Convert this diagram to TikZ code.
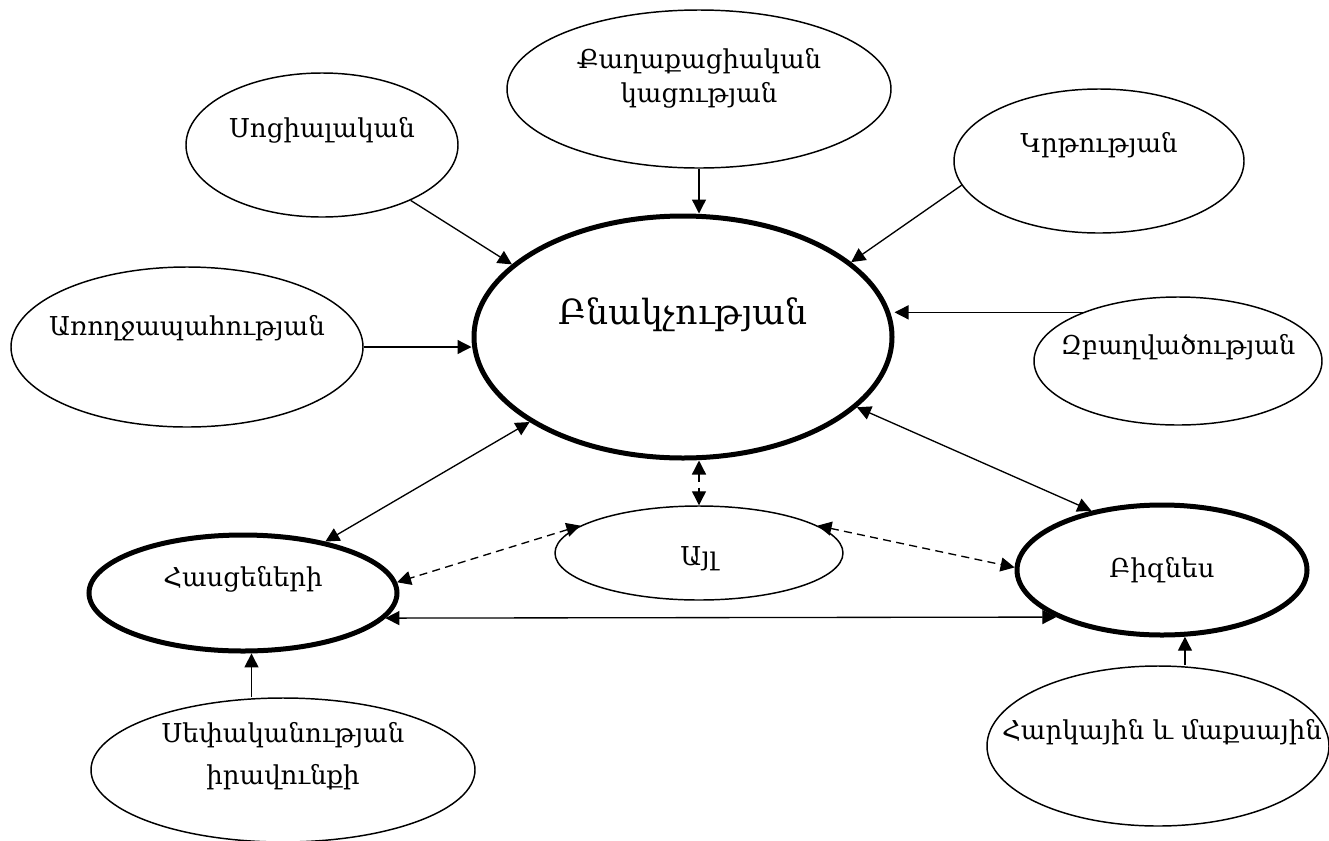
\documentclass[tikz,border=0pt]{standalone}
\usepackage{fontspec}
\setmainfont{DejaVu Serif}
\usetikzlibrary{shapes.geometric,arrows.meta}

\tikzset{every picture/.style={line width=1pt}}
\tikzset{
  oval/.style 2 args={ellipse, draw, line width=1.1pt, inner sep=0pt, minimum width=#1*0.75pt, minimum height=#2*0.75pt},
  bold/.style={line width=3.75pt},
  txt/.style={font=\fontsize{19.5}{25}\selectfont, align=center, inner sep=0pt},
  bigtxt/.style={font=\fontsize{26}{30}\selectfont, inner sep=0pt},
  arr/.style={-{Triangle[length=10.5pt,width=10.5pt]}},
  darr/.style={{Triangle[length=10.5pt,width=10.5pt]}-{Triangle[length=10.5pt,width=10.5pt]}},
  dsh/.style={dash pattern=on 6pt off 4pt}
}

\begin{document}
\begin{tikzpicture}[x=0.75pt,y=0.75pt,yscale=-1,xscale=1]
\useasboundingbox (0,0) rectangle (1329,840);

% Ellipses
\node[oval={272}{144}, label={[txt,yshift=11pt]center:Սոցիալական}] (soc) at (322,145) {};
\node[oval={384}{158}, label={[txt,yshift=8pt]center:{Քաղաքացիական\\կացության}}] (kag) at (699,89) {};
\node[oval={290}{144}, label={[txt,yshift=12pt]center:Կրթության}] (krt) at (1099,161) {};
\node[oval={418}{242}, bold, label={[bigtxt,yshift=16.5pt]center:Բնակչության}] (bnak) at (683,337) {};
\node[oval={352}{160}, label={[txt,yshift=14pt]center:Առողջապահության}] (arr) at (187,347) {};
\node[oval={288}{128}, label={[txt,yshift=10.5pt]center:Զբաղվածության}] (zba) at (1178,361) {};
\node[oval={288}{94}, label={[txt,yshift=-4pt]center:Այլ}] (ayl) at (699,553) {};
\node[oval={308}{116}, bold, label={[txt,yshift=10pt]center:Հասցեների}] (ham) at (243,593) {};
\node[oval={290}{130}, bold, label={[txt]center:Բիզնես}] (biz) at (1162,570) {};
\node[oval={342}{160}, label={[txt,yshift=10.5pt,xshift=3pt]center:Հարկային և մաքսային}] (har) at (1158,746) {};
\node[oval={384}{144}, label={[txt,yshift=10.5pt,font=\fontsize{19.5}{31}\selectfont]center:{Սեփականության\\իրավունքի}}] (sep) at (283,770) {};

% Arrows into the centre
\draw[arr] (soc.-32) -- (bnak.157);
\draw[arr] (kag.south) -- (kag.south |- bnak.north);
\draw[arr] (krt.190) -- (bnak.24);
\draw[arr] (arr.east) -- (arr.east -| bnak.west);
\draw[arr] (zba.153) -- (zba.153 -| bnak.east);

% Two-way links
\draw[darr] (bnak.209) -- (ham.32);
\draw[darr] (bnak.-22) -- (biz.140);
\draw[darr] (ham.-10) -- (biz.204);
\draw[darr,dsh] (bnak.south -| ayl.north) -- (ayl.north);
\draw[darr,dsh] (ayl.167) -- (ham.4);
\draw[darr,dsh] (ayl.13) -- (biz.179);

% Arrows from below
\draw[arr] (ham.-82 |- sep.north) -- (ham.-82);
\draw[arr] (biz.-71 |- har.north) -- (biz.-71);

\end{tikzpicture}
\end{document}
